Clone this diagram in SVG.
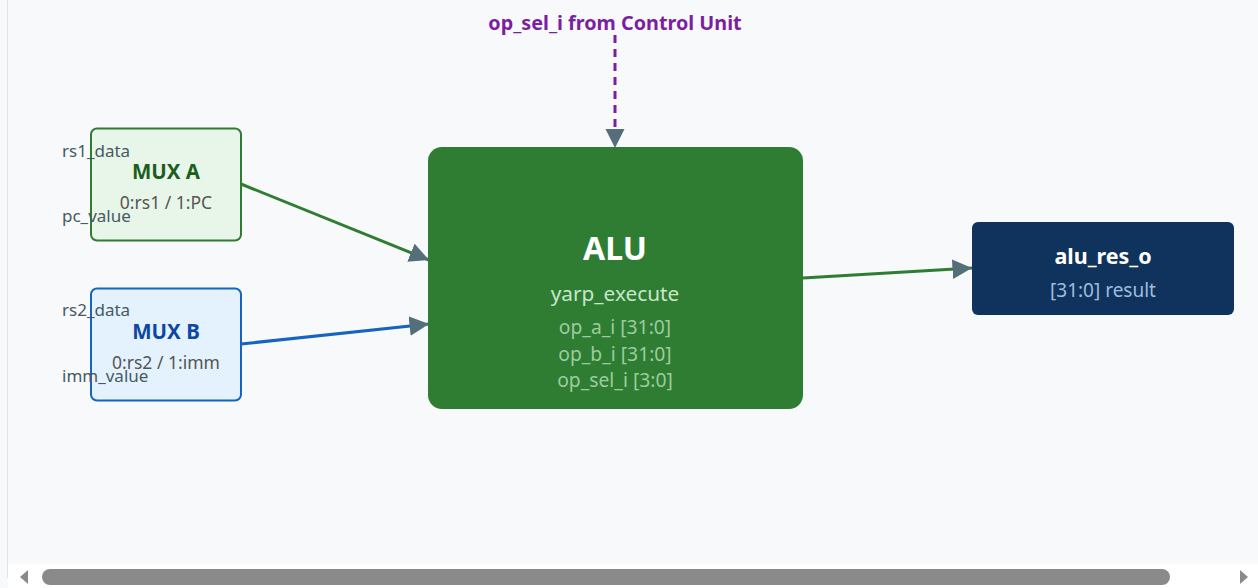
<svg xmlns="http://www.w3.org/2000/svg" width="1258" height="588" viewBox="0 0 1258 588">
  <style>
    text { font-family: "Noto Sans", "Open Sans", "DejaVu Sans", sans-serif; }
    .port { font-size: 17px; fill: #455a64; }
    .mux-title { font-size: 20.5px; font-weight: bold; text-anchor: middle; }
    .mux-sub { font-size: 17.5px; fill: #555; text-anchor: middle; }
    .alu-port { font-size: 19.3px; fill: #9ccc9f; text-anchor: middle; }
    .wire { fill: none; stroke-width: 3; marker-end: url(#arrow); }
  </style>
  <defs>
    <marker id="arrow" viewBox="0 0 10 10" refX="10" refY="5" markerWidth="6.5" markerHeight="6.5" markerUnits="strokeWidth" orient="auto">
      <path d="M0,0 L10,5 L0,10 Z" fill="#546e7a"/>
    </marker>
  </defs>

  <!-- canvas -->
  <rect x="0" y="0" width="1258" height="588" fill="#f8f9fb"/>
  <line x1="7.5" y1="0" x2="7.5" y2="578" stroke="#e2e4e8" stroke-width="1"/>

  <!-- connectors -->
  <g id="connectors">
    <line class="wire" x1="241" y1="184" x2="429" y2="260" stroke="#2e7d32"/>
    <line class="wire" x1="241" y1="344" x2="429" y2="324" stroke="#1565c0"/>
    <line class="wire" x1="803" y1="278" x2="972" y2="268" stroke="#2e7d32"/>
    <line class="wire" x1="615" y1="35" x2="615" y2="148" stroke="#7b1fa2" stroke-dasharray="8,6"/>
    <text x="615" y="30" text-anchor="middle" font-size="19.8" font-weight="bold" fill="#7b1fa2">op_sel_i from Control Unit</text>
  </g>

  <!-- MUX A -->
  <g id="mux-a">
    <rect x="91" y="128.5" width="150" height="112" rx="6" fill="#e8f5e9" stroke="#2e7d32" stroke-width="2"/>
    <text class="mux-title" x="166" y="179" fill="#1b5e20">MUX A</text>
    <text class="mux-sub" x="166" y="209">0:rs1 / 1:PC</text>
    <text class="port" x="62" y="157">rs1_data</text>
    <text class="port" x="62" y="222">pc_value</text>
  </g>

  <!-- MUX B -->
  <g id="mux-b">
    <rect x="91" y="288.5" width="150" height="112" rx="6" fill="#e3f2fd" stroke="#1565c0" stroke-width="2"/>
    <text class="mux-title" x="166" y="339" fill="#0d47a1">MUX B</text>
    <text class="mux-sub" x="166" y="369">0:rs2 / 1:imm</text>
    <text class="port" x="62" y="316">rs2_data</text>
    <text class="port" x="62" y="382">imm_value</text>
  </g>

  <!-- ALU -->
  <g id="alu">
    <rect x="428" y="147" width="375" height="262" rx="14" fill="#2e7d32"/>
    <text x="615" y="260" text-anchor="middle" font-size="32" font-weight="bold" fill="#ffffff">ALU</text>
    <text x="615" y="301" text-anchor="middle" font-size="20.8" fill="#c8e6c9">yarp_execute</text>
    <text class="alu-port" x="615" y="334">op_a_i [31:0]</text>
    <text class="alu-port" x="615" y="361">op_b_i [31:0]</text>
    <text class="alu-port" x="615" y="387">op_sel_i [3:0]</text>
  </g>

  <!-- ALU result -->
  <g id="alu-res-o">
    <rect x="972" y="222" width="262" height="93" rx="6" fill="#10335e"/>
    <text x="1103" y="264" text-anchor="middle" font-size="21.5" font-weight="bold" fill="#ffffff">alu_res_o</text>
    <text x="1103" y="297" text-anchor="middle" font-size="19" fill="#9fbcdc">[31:0] result</text>
  </g>

  <!-- horizontal scrollbar -->
  <g id="scrollbar">
    <rect x="8" y="564" width="1250" height="24" fill="#ffffff"/>
    <rect x="42" y="569" width="1128" height="16" rx="8" fill="#8a8a8a"/>
    <path d="M28,570 L20,577 L28,584 Z" fill="#8a8a8a"/>
    <path d="M1240,570 L1248,577 L1240,584 Z" fill="#8a8a8a"/>
  </g>
</svg>
